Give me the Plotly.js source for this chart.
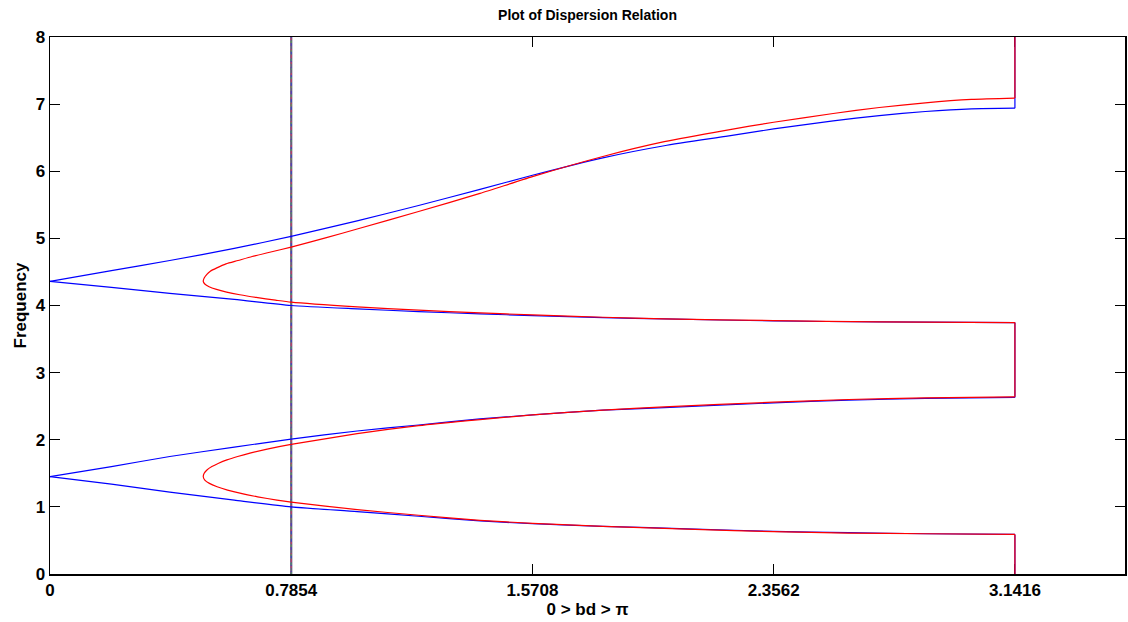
<!DOCTYPE html>
<html>
<head>
<meta charset="utf-8">
<script src="https://cdn.plot.ly/plotly-3.0.1.min.js"></script>
<style>html,body{margin:0;padding:0;background:#fff;}#chart{width:1128px;height:622px;}</style>
</head>
<body>
<div id="chart"></div>
<script>
// ---- data ----
// Blue curve (bd, frequency) as one path
const blueBd = [3.1416, 3.1416,
  2.85, 2.6, 2.356, 2.1, 1.8, 1.5708, 1.4, 1.2, 1.0, 0.785, 0.6, 0.39, 0.2, 0,
  0.2, 0.39, 0.6, 0.785, 1.0, 1.2, 1.4, 1.5708, 1.8, 2.0, 2.356, 2.6, 2.85, 3.1416,
  3.1416,
  2.7, 2.356, 2.0, 1.8, 1.5708, 1.4, 1.2, 1.0, 0.785, 0.6, 0.39, 0.2, 0,
  0.2, 0.39, 0.6, 0.785, 1.0, 1.2, 1.4, 1.5708, 1.8, 2.0, 2.2, 2.356, 2.55, 2.7, 2.85, 3.0, 3.1416,
  3.1416];
const blueFreq = [0, 0.59,
  0.60, 0.615, 0.635, 0.67, 0.71, 0.75, 0.79, 0.86, 0.93, 1.00, 1.10, 1.22, 1.34, 1.45,
  1.60, 1.75, 1.89, 2.01, 2.13, 2.22, 2.31, 2.37, 2.44, 2.48, 2.55, 2.59, 2.615, 2.63,
  3.745,
  3.755, 3.77, 3.80, 3.82, 3.85, 3.875, 3.91, 3.95, 4.00, 4.09, 4.18, 4.27, 4.36,
  4.52, 4.67, 4.85, 5.03, 5.26, 5.49, 5.73, 5.94, 6.20, 6.38, 6.52, 6.63, 6.75, 6.83, 6.89, 6.93, 6.94,
  8];

// Red curve (bd, frequency) as one path
const redBd = [3.1416, 3.1416,
  2.85, 2.6, 2.356, 2.1, 1.8, 1.5708, 1.4, 1.2, 1.0, 0.785,
  0.739, 0.676, 0.622, 0.578, 0.544, 0.519, 0.504, 0.499,
  0.502, 0.511, 0.527, 0.549, 0.576, 0.611, 0.651, 0.707, 0.785,
  1.0, 1.2, 1.4, 1.5708, 1.8, 2.0, 2.356, 2.6, 2.85, 3.1416,
  3.1416,
  2.7, 2.356, 2.0, 1.8, 1.5708, 1.4, 1.2, 1.0, 0.785,
  0.734, 0.671, 0.618, 0.575, 0.542, 0.518, 0.504, 0.499,
  0.502, 0.510, 0.522, 0.543, 0.573, 0.612, 0.658, 0.712, 0.785,
  0.9, 1.0, 1.2, 1.4, 1.5708, 1.8, 2.0, 2.2, 2.356, 2.55, 2.7, 2.85, 3.0, 3.1416,
  3.1416];
const redFreq = [0, 0.59,
  0.60, 0.61, 0.63, 0.665, 0.71, 0.755, 0.80, 0.875, 0.96, 1.07,
  1.10, 1.15, 1.20, 1.25, 1.30, 1.35, 1.40, 1.45,
  1.50, 1.55, 1.60, 1.65, 1.70, 1.75, 1.80, 1.86, 1.93,
  2.09, 2.21, 2.30, 2.37, 2.44, 2.49, 2.56, 2.60, 2.625, 2.64,
  3.745,
  3.755, 3.775, 3.80, 3.825, 3.86, 3.89, 3.93, 3.98, 4.05,
  4.08, 4.12, 4.16, 4.20, 4.24, 4.28, 4.32, 4.36,
  4.41, 4.46, 4.51, 4.56, 4.62, 4.67, 4.73, 4.79, 4.87,
  5.01, 5.14, 5.40, 5.67, 5.92, 6.22, 6.44, 6.61, 6.73, 6.86, 6.95, 7.02, 7.07, 7.09,
  8];

// Vertical marker line at bd = pi/4
const markerBd = [0.7854, 0.7854];
const markerFreq = [0, 8];

// Tick labels
const xTickVals = [0, 0.7854, 1.5708, 2.3562, 3.1416];
const xTickText = ["0", "0.7854", "1.5708", "2.3562", "3.1416"];
const yTickVals = [0, 1, 2, 3, 4, 5, 6, 7, 8];

const FONT = "Liberation Sans, Arial, Helvetica, sans-serif";

// Split a path into smooth curve pieces, straight vertical pieces (bd constant)
// and break at the sharp tips on the bd = 0 axis
function pathTraces(xs, ys, color) {
  const out = [];
  let start = 0;
  const pushPiece = (a, b, shape) => {
    if (b - a < 1) return;
    const line = {color: color, width: 1.2, shape: shape};
    if (shape === "spline") line.smoothing = 0.6;
    out.push({x: xs.slice(a, b + 1), y: ys.slice(a, b + 1), mode: "lines", hoverinfo: "skip", line: line});
  };
  for (let i = 1; i < xs.length; i++) {
    if (xs[i] === xs[i - 1]) {
      pushPiece(start, i - 1, "spline");
      pushPiece(i - 1, i, "linear");
      start = i;
    } else if (xs[i] === 0) {
      pushPiece(start, i, "spline");
      start = i;
    }
  }
  pushPiece(start, xs.length - 1, "spline");
  return out;
}

const traces = [
  {x: markerBd, y: markerFreq, mode: "lines", line: {color: "#66607a", width: 2.2}, hoverinfo: "skip"},
  {x: markerBd, y: markerFreq, mode: "lines", line: {color: "#cc3366", width: 1, dash: "dot"}, hoverinfo: "skip"},
  {x: markerBd, y: markerFreq, mode: "lines", line: {color: "#3344cc", width: 1, dash: "3px,5px"}, hoverinfo: "skip"},
  {x: markerBd, y: markerFreq, mode: "lines", line: {color: "#559955", width: 1, dash: "2px,7px"}, hoverinfo: "skip"}
].concat(pathTraces(blueBd, blueFreq, "#0000ff"), pathTraces(redBd, redFreq, "#ff0000"));

const axisCommon = {
  showgrid: false, zeroline: false,
  showline: true, linecolor: "#000", linewidth: 1.5, mirror: "ticks",
  ticks: "inside", ticklen: 10, tickcolor: "#000", tickwidth: 1,
  layer: "below traces",
  tickfont: {family: FONT, size: 17, color: "#000", weight: "bold"}
};

const layout = {
  width: 1128, height: 622,
  margin: {l: 50, r: 3, t: 37, b: 48},
  paper_bgcolor: "#fff", plot_bgcolor: "#fff",
  showlegend: false,
  title: {text: "Plot of Dispersion Relation", x: 0.5, xref: "paper", xanchor: "center",
          y: 1 - 15/622, yref: "container", yanchor: "middle",
          font: {family: FONT, size: 14, color: "#000", weight: "bold"}},
  xaxis: Object.assign({}, axisCommon, {
    range: [0, 3.5], tickmode: "array", tickvals: xTickVals, ticktext: xTickText,
    title: {text: "0 > bd > π", standoff: 0, font: {family: FONT, size: 17, color: "#000", weight: "bold"}}
  }),
  yaxis: Object.assign({}, axisCommon, {
    range: [0, 8], tickmode: "array", tickvals: yTickVals,
    title: {text: "Frequency", standoff: 4, font: {family: FONT, size: 17, color: "#000", weight: "bold"}}
  })
};

Plotly.newPlot("chart", traces, layout, {displayModeBar: false, staticPlot: true});
</script>
</body>
</html>
